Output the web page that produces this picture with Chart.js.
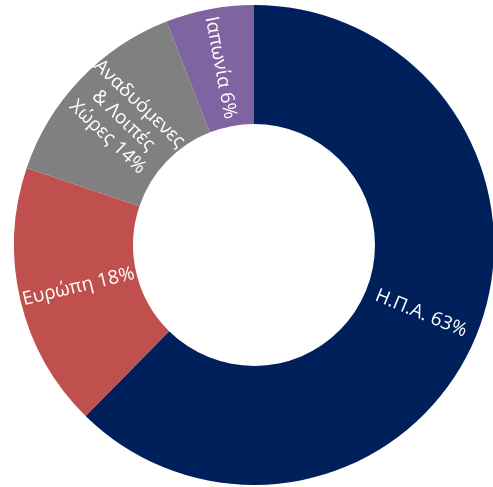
<!DOCTYPE html>
<html>
<head>
<meta charset="utf-8">
<script src="https://cdn.jsdelivr.net/npm/chart.js@4"></script>
<style>
  html, body { margin: 0; padding: 0; background: #fff; overflow: hidden; }
  #wrap { position: absolute; left: 0; top: 0; width: 494px; height: 487px; }
</style>
</head>
<body>
<div id="wrap"><canvas id="donut"></canvas></div>
<script>
const regions = [['Η.Π.Α.'], ['Ευρώπη'], ['Αναδυόμενες', '& Λοιπές', 'Χώρες'], ['Ιαπωνία']];
const shares = [63, 18, 14, 6];
const colours = ['#00205c', '#c0504d', '#808080', '#8064a2'];

// writes each label along the radius, in the middle of its ring segment
const radialLabels = {
  id: 'radialLabels',
  afterDatasetsDraw(chart) {
    const ctx = chart.ctx;
    const arcs = chart.getDatasetMeta(0).data;
    ctx.save();
    ctx.fillStyle = '#fff';
    ctx.font = '19px "Open Sans", sans-serif';
    ctx.textAlign = 'center';
    ctx.textBaseline = 'middle';
    arcs.forEach((arc, i) => {
      const mid = (arc.startAngle + arc.endAngle) / 2;
      const r = (arc.innerRadius + arc.outerRadius) / 2;
      const x = arc.x + r * Math.cos(mid);
      const y = arc.y + r * Math.sin(mid);
      let rot = mid;
      if (Math.cos(mid) < 0) rot += Math.PI;
      const lines = regions[i].slice();
      lines[lines.length - 1] += ' ' + shares[i] + '%';
      const lh = 23;
      ctx.save();
      ctx.translate(x, y);
      ctx.rotate(rot);
      lines.forEach((l, k) => {
        ctx.fillText(l, 0, (k - (lines.length - 1) / 2) * lh);
      });
      ctx.restore();
    });
    ctx.restore();
  }
};

new Chart(document.getElementById('donut'), {
  type: 'doughnut',
  data: {
    labels: regions.map(r => r.join(' ')),
    datasets: [{
      data: shares,
      backgroundColor: colours,
      borderWidth: 0
    }]
  },
  options: {
    responsive: true,
    maintainAspectRatio: false,
    animation: false,
    cutout: '50.4%',
    layout: { padding: { left: 14, right: 0, top: 5, bottom: 2 } },
    plugins: { legend: { display: false }, tooltip: { enabled: false } }
  },
  plugins: [radialLabels]
});
</script>
</body>
</html>
